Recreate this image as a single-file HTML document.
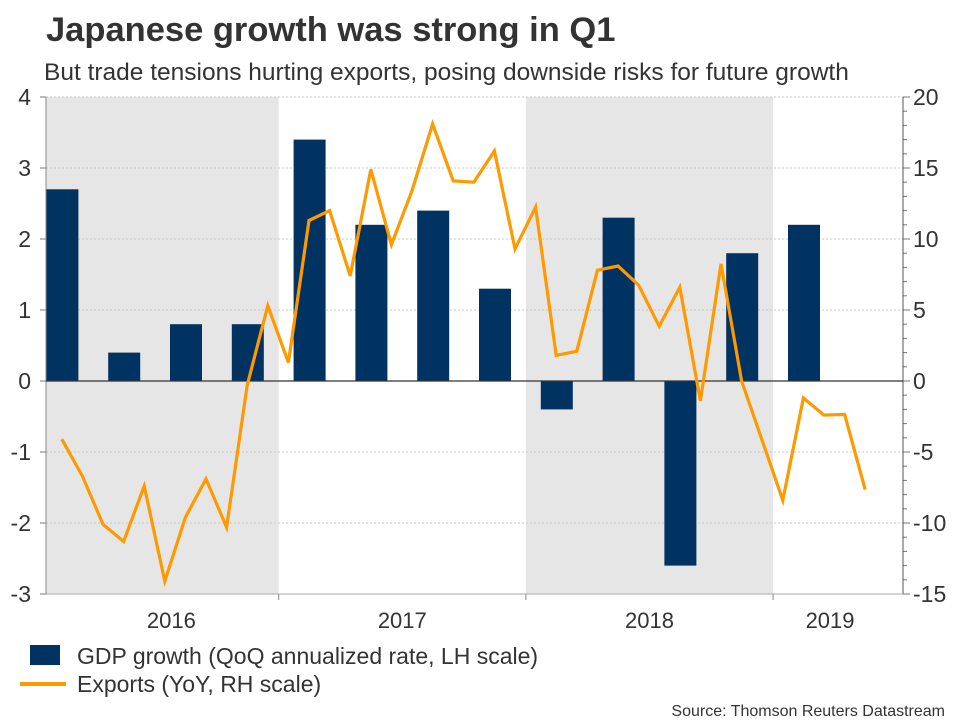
<!DOCTYPE html>
<html><head><meta charset="utf-8">
<style>
body{margin:0;background:#fff;}
svg{display:block;font-family:"Liberation Sans",sans-serif;}
</style></head>
<body>
<svg id="c" width="960" height="720" viewBox="0 0 960 720">
<text x="46" y="41" font-size="34.5" font-weight="bold" fill="#333">Japanese growth was strong in Q1</text>
<text x="44" y="80" font-size="24.5" fill="#333">But trade tensions hurting exports, posing downside risks for future growth</text>
<g id="shade"></g>
<g id="grid"></g>
<g id="bars"></g>
<g id="axes"></g>
<g id="line"></g>
<g>
<rect x="30" y="645" width="30" height="20" fill="#003262"/>
<text x="77" y="664" font-size="23" fill="#333">GDP growth (QoQ annualized rate, LH scale)</text>
<line x1="20" y1="684" x2="66" y2="684" stroke="#ff9900" stroke-width="4"/>
<text x="77" y="692" font-size="23" fill="#333">Exports (YoY, RH scale)</text>
</g>
<text x="945" y="716" font-size="16" fill="#333" text-anchor="end">Source: Thomson Reuters Datastream</text>
</svg>
<script>
const gdp = [2.7,0.4,0.8,0.8,3.4,2.2,2.4,1.3,-0.4,2.3,-2.6,1.8,2.2];
const exportsYoY = [-4.1,-6.7,-10.1,-11.3,-7.4,-14.1,-9.6,-6.9,-10.3,-0.3,5.3,1.3,11.3,12.0,7.4,14.9,9.6,13.4,18.1,14.1,14.0,16.2,9.3,12.25,1.8,2.1,7.8,8.1,6.75,3.85,6.6,-1.4,8.25,0.0,-4.2,-8.4,-1.2,-2.4,-2.35,-7.65];
const leftTicks = [4,3,2,1,0,-1,-2,-3];
const rightTicks = [20,15,10,5,0,-5,-10,-15];
const years = ['2016','2017','2018','2019'];
const shadedYears = [0,2];

const NS='http://www.w3.org/2000/svg';
const L=46,R=903,T=97,B=594;
const yL=v=>381+(0-v)*(B-T)/7;
const yR=v=>381-v*(B-T)/35;
const xT=t=>31.5+t*20.6; // months from Jan 2016
function mk(tag,attrs,parent){const e=document.createElementNS(NS,tag);for(const k in attrs)e.setAttribute(k,attrs[k]);document.getElementById(parent).appendChild(e);return e;}

shadedYears.forEach(y=>{
  const x1=Math.max(L,xT(y*12)), x2=Math.min(R,xT(y*12+12));
  const r=mk('rect',{x:x1,y:T,width:x2-x1,height:B-T,fill:'#e6e6e6'},'shade');
  
  
});
leftTicks.forEach(v=>{
  const y=yL(v);
  if(v!==0&&v!==-3){const g=mk('line',{x1:L,x2:R,y1:y,y2:y,stroke:'#c8c8c8','stroke-dasharray':'2,2'},'grid');
  
  }
  const tk=mk('line',{x1:L-6,x2:L,y1:y,y2:y,stroke:'#777'},'axes');
  
  
  const t=mk('text',{x:31,y:y+8,'font-size':23,fill:'#333','text-anchor':'end'},'axes');
  t.textContent=v;
  
  
});
for(let v=-15;v<=20;v++){
  const y=yR(v);
  const tk=mk('line',{x1:R,x2:R+(v%5===0?7:4),y1:y,y2:y,stroke:'#777'},'axes');
  
  
}
rightTicks.forEach(v=>{
  const t=mk('text',{x:913,y:yR(v)+8,'font-size':23,fill:'#333'},'axes');
  t.textContent=v;
  
  
});
gdp.forEach((v,i)=>{
  const cx=xT(1.5+3*i);
  const x1=Math.max(L,cx-16);
  const r=mk('rect',{x:x1,width:cx+16-x1,y:Math.min(yL(v),yL(0)),height:Math.abs(yL(v)-yL(0)),fill:'#003262'},'bars');
  
  
});
let a=mk('line',{x1:L,x2:L,y1:T,y2:B,stroke:'#888'},'axes');

a=mk('line',{x1:R,x2:R,y1:T,y2:B,stroke:'#555'},'axes');

a=mk('line',{x1:L,x2:R,y1:B,y2:B,stroke:'#aaa'},'axes');

a=mk('line',{x1:L,x2:R,y1:yL(0),y2:yL(0),stroke:'#333','stroke-width':1.2},'axes');

years.forEach((yr,i)=>{
  if(i>0){const tk=mk('line',{x1:xT(i*12),x2:xT(i*12),y1:B,y2:B+6,stroke:'#888'},'axes');
  }
  const x1=Math.max(L,xT(i*12)),x2=Math.min(R,xT(i*12+12));
  const t=mk('text',{x:(x1+x2)/2+(i===3?-8:(i===0?9:0)),y:628,'font-size':22,fill:'#333','text-anchor':'middle'},'axes');
  t.textContent=yr;
  
  
});
const pts=exportsYoY.map((v,k)=>xT(1.47+k).toFixed(1)+','+yR(v).toFixed(1)).join(' ');
const pl=mk('polyline',{points:pts,fill:'none',stroke:'#ff9900','stroke-width':3.2,'stroke-linejoin':'miter'},'line');


</script>
</body></html>
